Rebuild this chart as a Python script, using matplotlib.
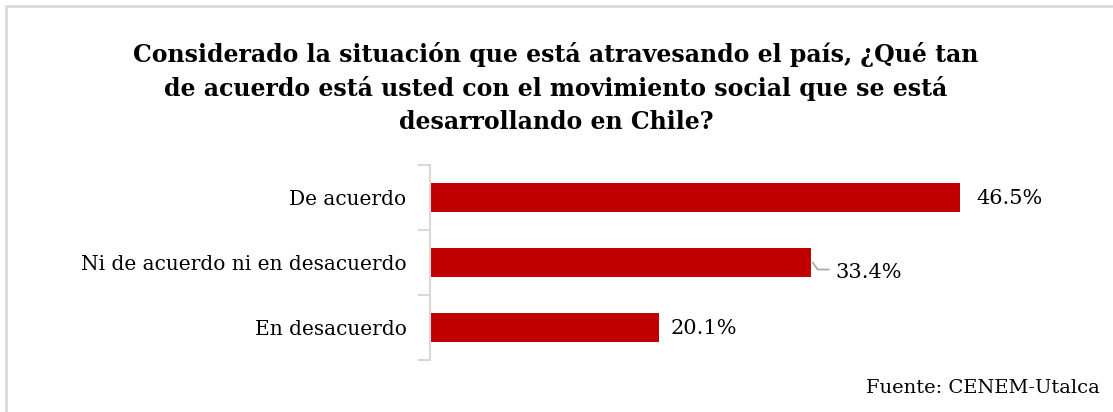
import matplotlib.pyplot as plt
from matplotlib.patches import Rectangle

categories = ["De acuerdo", "Ni de acuerdo ni en desacuerdo", "En desacuerdo"]
values = [46.5, 33.4, 20.1]
value_labels = ["46.5%", "33.4%", "20.1%"]

title = ("Considerado la situación que está atravesando el país, ¿Qué tan\n"
         "de acuerdo está usted con el movimiento social que se está\n"
         "desarrollando en Chile?")
source = "Fuente: CENEM-Utalca"

plt.rcParams['font.family'] = ['DejaVu Serif']
red = "#C00000"
grey = "#D9D9D9"

fig = plt.figure(figsize=(11.13, 4.12), dpi=100)
W, H = 1113, 412

# outer frame (only top and left are visible in the original)
fig.add_artist(Rectangle((6 / W, -0.1), 1.2, (H - 6) / H + 0.1, transform=fig.transFigure,
                         fill=False, edgecolor=grey, linewidth=2))

fig.text(556 / W, 1 - 88 / H, title, ha="center", va="center", fontsize=17,
         fontweight="bold", linespacing=1.45)

ax = fig.add_axes([430 / W, (H - 360) / H, (1080 - 430) / W, 195 / H])
y = list(range(len(categories)))
ax.barh(y, values, height=0.45, color=red)
ax.set_ylim(len(categories) - 0.5, -0.5)
ax.set_xlim(0, (1080 - 430) / (530 / 46.5))

ax.set_yticks(y)
ax.set_yticklabels(categories, fontsize=14.5)
ax.set_yticks([i - 0.5 for i in range(len(categories) + 1)], minor=True)
ax.tick_params(axis="y", which="major", length=0, pad=17)
ax.tick_params(axis="y", which="minor", length=9, color=grey, width=1.5)
ax.set_xticks([])
for s in ["top", "right", "bottom"]:
    ax.spines[s].set_visible(False)
ax.spines["left"].set_color(grey)
ax.spines["left"].set_linewidth(1.5)

# value labels; the middle one sits lower with a small leader line
for i, (v, lab) in enumerate(zip(values, value_labels)):
    if i == 1:
        px, py = ax.transData.transform((v, i))
        pts = [(px + 2, py), (px + 7, py - 7), (px + 18, py - 7)]
        xs, ys = zip(*[ax.transData.inverted().transform(p) for p in pts])
        ax.plot(xs, ys, color="#A6A6A6", lw=1.2, clip_on=False)
        ax.annotate(lab, xy=(v, i), xytext=(18, -7), textcoords="offset points",
                    ha="left", va="center", fontsize=15)
    else:
        dx = 12 if i == 0 else 8
        ax.annotate(lab, xy=(v, i), xytext=(dx, -1), textcoords="offset points",
                    ha="left", va="center", fontsize=15)

fig.text(1100 / W, 1 - 388 / H, source, ha="right", va="center", fontsize=14)

fig.savefig("out.png", dpi=100)
